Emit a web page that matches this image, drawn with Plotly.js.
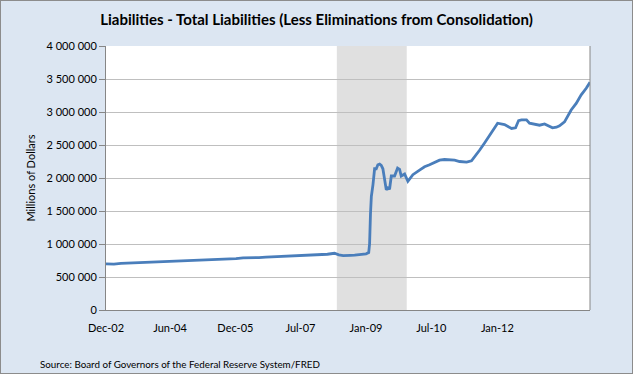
<!DOCTYPE html>
<html>
<head>
<meta charset="utf-8">
<script src="https://cdn.plot.ly/plotly-3.0.1.min.js"></script>
<style>
  html, body { margin: 0; padding: 0; background: #dce6f2; }
  #chart { width: 631px; height: 372px; border: 1px solid #8c8c8c; }
</style>
</head>
<body>
<div id="chart"></div>
<script>
const dates = [
  "2002-12-18","2003-02-19","2003-04-16","2003-06-18","2003-08-20","2003-10-15","2003-12-17",
  "2004-02-18","2004-04-21","2004-06-16","2004-08-18","2004-10-20","2004-12-15",
  "2005-02-16","2005-04-20","2005-06-15","2005-08-17","2005-10-19","2005-12-14",
  "2006-02-15","2006-04-19","2006-06-14","2006-08-16","2006-10-18","2006-12-13",
  "2007-02-14","2007-04-18","2007-06-13","2007-08-15","2007-10-17","2007-12-12",
  "2008-01-16","2008-02-20","2008-03-19","2008-04-16","2008-05-21","2008-06-18","2008-07-16",
  "2008-08-20","2008-09-10","2008-09-17","2008-09-24","2008-10-01","2008-10-14","2008-10-27",
  "2008-11-09","2008-11-22","2008-12-06","2008-12-19","2009-01-01","2009-01-15","2009-01-28",
  "2009-02-10","2009-02-23","2009-03-09","2009-04-04","2009-04-28","2009-05-14","2009-05-27",
  "2009-06-23","2009-07-19","2009-08-28","2009-10-20","2009-11-29","2010-01-08","2010-02-17",
  "2010-03-28","2010-05-07","2010-06-16","2010-07-26","2010-09-04","2010-10-30","2010-12-08",
  "2011-01-09","2011-02-10","2011-03-22","2011-05-01","2011-07-04","2011-08-28","2011-10-23",
  "2011-11-24","2011-12-18","2012-01-10","2012-02-19","2012-03-14","2012-04-23","2012-06-02",
  "2012-07-12","2012-08-20","2012-09-13","2012-10-15","2012-11-08","2012-12-18","2013-01-10",
  "2013-02-09","2013-03-21","2013-04-30","2013-06-09","2013-07-09"
];
const liabilities = [
  700000,695000,705000,710000,712000,718000,722000,
  725000,732000,738000,742000,748000,755000,
  752000,760000,770000,775000,778000,790000,
  788000,795000,800000,805000,812000,820000,
  818000,830000,835000,842000,845000,860000,
  835000,825000,822000,828000,830000,838000,845000,
  852000,870000,1000000,1450000,1720000,1900000,2140000,
  2140000,2200000,2210000,2190000,2140000,1960000,1820000,
  1850000,1830000,2030000,2030000,2150000,2130000,2030000,
  2060000,1950000,2050000,2120000,2170000,2200000,2240000,
  2270000,2280000,2280000,2270000,2250000,2240000,2260000,
  2350000,2420000,2530000,2640000,2830000,2810000,2750000,
  2760000,2870000,2880000,2880000,2830000,2810000,2800000,
  2820000,2780000,2760000,2770000,2790000,2850000,2930000,
  3030000,3130000,3260000,3360000,3450000
];
const recession = ["2007-12-31", "2009-07-10"];
const tickDates = ["2002-12-18","2004-05-11","2005-10-14","2007-03-16","2008-08-19","2010-01-21","2011-07-02"];
const tickLabels = ["Dec-02","Jun-04","Dec-05","Jul-07","Jan-09","Jul-10","Jan-12"];
const xRange = ["2002-12-18", "2013-07-09"];

const font = "Lato, 'Open Sans', sans-serif";

const trace = {
  x: dates, y: liabilities, type: "scatter", mode: "lines",
  line: { color: "#4a7ebb", width: 2.8 },
  hoverinfo: "x+y"
};

const layout = {
  width: 631, height: 372,
  margin: { l: 105, r: 42, t: 45, b: 63 },
  paper_bgcolor: "#dce6f2",
  plot_bgcolor: "#ffffff",
  separators: ". ",
  font: { family: font, size: 11, color: "#000000" },
  showlegend: false,
  title: {
    text: "<b>Liabilities - Total Liabilities (Less Eliminations from Consolidation)</b>",
    font: { family: font, size: 15, color: "#000000" },
    xref: "container", x: 0.5, xanchor: "center",
    yref: "container", y: 1 - 19 / 372, yanchor: "middle"
  },
  xaxis: {
    type: "date", range: xRange,
    tickvals: tickDates, ticktext: tickLabels,
    showgrid: false, zeroline: false,
    showline: true, linecolor: "#868686", linewidth: 1,
    ticks: "", ticklabelstandoff: 8,
    tickfont: { family: font, size: 11, color: "#000000" }
  },
  yaxis: {
    range: [0, 4000000], dtick: 500000, tick0: 0, tickformat: ",d",
    showgrid: true, gridcolor: "#bfbfbf", gridwidth: 1, zeroline: false,
    showline: true, linecolor: "#868686", linewidth: 1,
    ticks: "outside", ticklen: 6, tickcolor: "#868686",
    tickfont: { family: font, size: 11, color: "#000000" },
    title: { text: "Millions of Dollars", font: { family: font, size: 11, color: "#000000" }, standoff: 8 }
  },
  shapes: [
    { type: "rect", xref: "x", yref: "paper", x0: recession[0], x1: recession[1], y0: 0, y1: 1,
      fillcolor: "#e0e0e0", line: { width: 0 }, layer: "below" },
    { type: "line", xref: "paper", yref: "paper", x0: 1, x1: 1, y0: 0, y1: 1,
      line: { color: "#868686", width: 1 } }
  ],
  annotations: [
    { text: "Source: Board of Governors of the Federal Reserve System/FRED",
      xref: "paper", yref: "paper", x: (38 - 106.3) / 484.2, y: -(364 - 310) / 264,
      xanchor: "left", yanchor: "middle", showarrow: false,
      font: { family: font, size: 9.8, color: "#000000" } }
  ]
};

Plotly.newPlot("chart", [trace], layout, { displayModeBar: false, staticPlot: true });
</script>
</body>
</html>
